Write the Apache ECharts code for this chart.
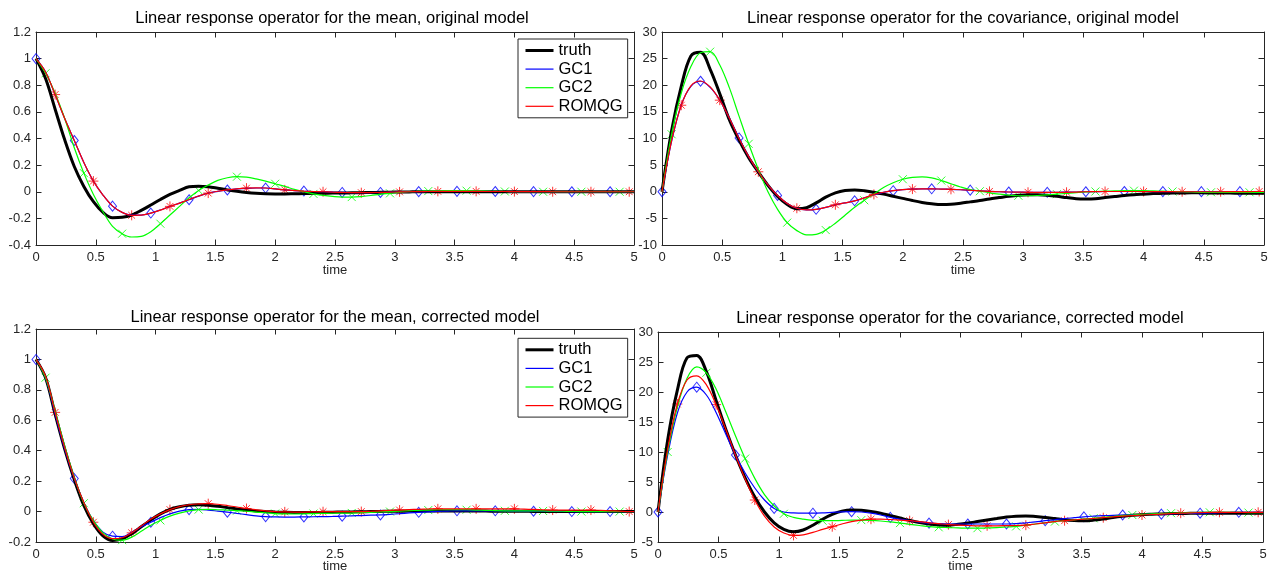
<!DOCTYPE html>
<html>
<head>
<meta charset="utf-8">
<script src="https://cdn.jsdelivr.net/npm/echarts@6/dist/echarts.min.js"></script>
<style>html,body{margin:0;padding:0;background:#fff}#c{width:1281px;height:576px}</style>
</head>
<body>
<div id="c"></div>
<script>
// time grid (shared by all series)
var t = [0,0.08,0.16,0.24,0.32,0.40,0.48,0.56,
0.64,0.72,0.80,0.88,0.96,1.04,1.12,1.20,
1.28,1.36,1.44,1.52,1.60,1.68,1.76,1.84,
1.92,2.00,2.08,2.16,2.24,2.32,2.40,2.48,
2.56,2.64,2.72,2.80,2.88,2.96,3.04,3.12,
3.20,3.28,3.36,3.44,3.52,3.60,3.68,3.76,
3.84,3.92,4.00,4.08,4.16,4.24,4.32,4.40,
4.48,4.56,4.64,4.72,4.80,4.88,4.96,5.00];

var seriesNames = ['truth','GC1','GC2','ROMQG'];
var xTicks = {min:0, max:5, interval:0.5};

// ---- mean, original model ----
var truthMO = [1.0,0.85,0.62,0.39,0.19,0.04,-0.075,-0.155,
-0.195,-0.192,-0.175,-0.14,-0.10,-0.058,-0.02,0.01,
0.038,0.042,0.037,0.026,0.014,0.003,-0.006,-0.012,
-0.015,-0.016,-0.016,-0.015,-0.014,-0.012,-0.011,-0.01,
-0.009,-0.008,-0.007,-0.006,-0.004,-0.003,-0.002,-0.001,
0,0,0,0,0,0,0,0,
0,0,0,0,0,0,0,0,
0,0,0,0,0,0,0,0];
var gc1MO = [1.0,0.9,0.73,0.55,0.385,0.22,0.08,-0.025,
-0.108,-0.155,-0.176,-0.175,-0.16,-0.137,-0.11,-0.085,
-0.06,-0.033,-0.01,0.003,0.013,0.021,0.026,0.028,
0.028,0.022,0.014,0.009,0.005,0.002,0.0,-0.003,
-0.005,-0.006,-0.006,-0.006,-0.005,-0.003,-0.001,0.0,
0.001,0.002,0.003,0.003,0.003,0.003,0.003,0.002,
0.002,0.002,0.001,0.001,0.001,0.001,0,0,
0,0,0,0,0,0,0,0];
var gc2MO = [1.0,0.89,0.74,0.55,0.33,0.14,-0.02,-0.15,
-0.26,-0.315,-0.34,-0.335,-0.30,-0.24,-0.175,-0.11,
-0.045,0.01,0.05,0.085,0.105,0.113,0.11,0.097,
0.08,0.06,0.04,0.018,0.0,-0.016,-0.027,-0.035,
-0.04,-0.04,-0.036,-0.028,-0.019,-0.012,-0.005,0.0,
0.003,0.005,0.007,0.008,0.008,0.008,0.007,0.005,
0.003,0.002,0.001,0,0,0,0,0,
0,0,0,0,0,0,0,0];
var romMO = [1.0,0.9,0.73,0.55,0.385,0.22,0.08,-0.025,
-0.108,-0.155,-0.177,-0.176,-0.161,-0.138,-0.11,-0.085,
-0.058,-0.032,-0.01,0.004,0.014,0.022,0.027,0.029,
0.028,0.022,0.014,0.009,0.005,0.002,0.0,-0.003,
-0.005,-0.006,-0.007,-0.006,-0.005,-0.003,-0.001,0.0,
0.001,0.002,0.003,0.003,0.003,0.003,0.003,0.002,
0.002,0.002,0.001,0.001,0.001,0.001,0,0,
0,0,0,0,0,0,0,0];

// ---- covariance, original model ----
var truthCO = [0,11.5,19.8,25.5,26.2,23.0,18.4,13.5,
9.7,6.4,3.7,1.2,-0.9,-2.4,-3.2,-3.0,
-2.1,-1.0,-0.2,0.25,0.35,0.2,-0.1,-0.45,
-0.85,-1.25,-1.65,-2.0,-2.25,-2.4,-2.35,-2.15,
-1.9,-1.65,-1.35,-1.1,-0.85,-0.65,-0.55,-0.55,
-0.65,-0.85,-1.1,-1.3,-1.35,-1.3,-1.1,-0.9,
-0.7,-0.55,-0.45,-0.35,-0.3,-0.25,-0.22,-0.2,
-0.2,-0.22,-0.24,-0.25,-0.27,-0.28,-0.3,-0.3];
var gc1CO = [0,9.5,16.3,19.8,20.75,19.6,17.2,13.8,
10.1,6.6,3.75,1.3,-0.7,-2.2,-3.1,-3.4,
-3.3,-2.95,-2.45,-2.1,-1.7,-1.15,-0.55,-0.12,
0.2,0.4,0.5,0.55,0.55,0.5,0.45,0.38,
0.3,0.18,0.08,0.0,-0.05,-0.08,-0.1,-0.1,
-0.1,-0.1,-0.08,-0.05,0.0,0.03,0.05,0.05,
0.05,0.05,0.05,0.04,0.03,0.02,0.02,0.02,
0.02,0.02,0.02,0.02,0.02,0.02,0.02,0.02];
var gc2CO = [0,10.8,18.5,23.5,26.1,26.3,23.8,19.5,
14.2,9.0,4.2,0.0,-3.3,-5.8,-7.3,-8.1,
-8.0,-7.2,-5.9,-4.4,-2.9,-1.6,-0.4,0.8,
1.7,2.35,2.7,2.8,2.6,2.1,1.5,0.9,
0.4,0.1,-0.2,-0.45,-0.65,-0.75,-0.75,-0.7,
-0.6,-0.45,-0.3,-0.15,-0.05,0.05,0.1,0.15,
0.2,0.2,0.2,0.15,0.1,0.05,0.0,-0.05,
-0.1,-0.1,-0.1,-0.1,-0.1,-0.1,-0.1,-0.1];
var romCO = [0,9.6,16.25,19.9,20.8,19.7,17.2,13.8,
10.0,6.6,3.75,1.3,-0.7,-2.2,-3.1,-3.4,
-3.3,-2.95,-2.45,-2.1,-1.7,-1.15,-0.5,-0.1,
0.2,0.4,0.5,0.55,0.55,0.5,0.45,0.38,
0.28,0.17,0.07,0.0,-0.05,-0.08,-0.1,-0.1,
-0.1,-0.1,-0.1,-0.06,0.0,0.03,0.05,0.05,
0.05,0.05,0.05,0.04,0.02,0.01,0.0,0.0,
0.0,0.0,0.0,0.02,0.03,0.04,0.05,0.05];

// ---- mean, corrected model ----
var truthMC = [1.0,0.88,0.64,0.41,0.21,0.04,-0.08,-0.16,
-0.19,-0.18,-0.145,-0.10,-0.055,-0.015,0.015,0.032,
0.042,0.045,0.042,0.035,0.026,0.017,0.01,0.004,
0.0,-0.003,-0.005,-0.006,-0.006,-0.006,-0.005,-0.004,
-0.003,-0.002,-0.001,0.0,0.001,0.002,0.002,0.003,
0.003,0.003,0.003,0.003,0.003,0.003,0.003,0.003,
0.002,0.002,0.002,0.002,0.001,0.001,0.001,0.001,
0.001,0,0,0,0,0,0,0];
var gc1MC = [1.0,0.88,0.64,0.41,0.217,0.06,-0.06,-0.135,
-0.162,-0.165,-0.138,-0.10,-0.07,-0.04,-0.015,0.003,
0.013,0.014,0.01,0.003,-0.004,-0.012,-0.02,-0.028,
-0.033,-0.035,-0.036,-0.036,-0.035,-0.034,-0.033,-0.032,
-0.03,-0.028,-0.026,-0.024,-0.022,-0.018,-0.014,-0.009,
-0.005,-0.002,0.001,0.003,0.005,0.005,0.005,0.005,
0.005,0.004,0.003,0.003,0.002,0.002,0.001,0.001,
0,0,0,0,0,0,0,0];
var gc2MC = [1.0,0.88,0.66,0.43,0.225,0.055,-0.06,-0.14,
-0.18,-0.188,-0.168,-0.13,-0.09,-0.058,-0.03,-0.01,
0.005,0.013,0.014,0.012,0.009,0.006,0.002,-0.003,
-0.009,-0.013,-0.015,-0.016,-0.015,-0.013,-0.012,-0.011,
-0.01,-0.009,-0.007,-0.005,-0.002,0.0,0.003,0.006,
0.008,0.01,0.012,0.013,0.013,0.012,0.01,0.008,
0.006,0.005,0.005,0.005,0.005,0.004,0.003,0.002,
0.001,0,0,0,0,0,0,0];
var romMC = [1.0,0.89,0.652,0.42,0.22,0.06,-0.07,-0.15,
-0.178,-0.172,-0.14,-0.095,-0.05,-0.015,0.013,0.033,
0.045,0.05,0.052,0.048,0.04,0.03,0.02,0.012,
0.005,0.0,-0.002,-0.003,-0.003,-0.002,-0.001,0.0,
0.0,0.0,0.0,0.002,0.005,0.008,0.01,0.013,
0.015,0.017,0.018,0.018,0.018,0.018,0.018,0.018,
0.018,0.018,0.018,0.016,0.014,0.012,0.01,0.01,
0.01,0.01,0.01,0.008,0.005,0.003,0.0,0.0];

// ---- covariance, corrected model ----
var truthCC = [0,12,20.3,25.7,26.1,23.4,18.6,13.8,
9.5,5.7,2.5,0.0,-1.8,-2.9,-3.3,-3.0,
-2.2,-1.2,-0.4,0.15,0.35,0.3,0.1,-0.2,
-0.6,-1.0,-1.4,-1.75,-2.0,-2.15,-2.2,-2.05,
-1.85,-1.6,-1.35,-1.1,-0.85,-0.7,-0.65,-0.75,
-0.9,-1.1,-1.3,-1.42,-1.45,-1.35,-1.15,-0.9,
-0.7,-0.55,-0.45,-0.38,-0.32,-0.27,-0.24,-0.22,
-0.2,-0.2,-0.2,-0.2,-0.2,-0.2,-0.2,-0.2];
var gc1CC = [0,9.5,16.5,20.0,20.8,19.5,16.6,13.0,
9.5,6.5,4.0,2.0,0.6,0.0,-0.15,-0.2,
-0.2,-0.15,-0.05,0.03,0.05,0.0,-0.2,-0.5,
-0.9,-1.2,-1.45,-1.7,-1.85,-1.95,-2.0,-2.0,
-2.0,-2.0,-2.0,-2.0,-2.0,-1.95,-1.8,-1.65,
-1.45,-1.3,-1.1,-0.95,-0.8,-0.7,-0.62,-0.55,
-0.5,-0.45,-0.42,-0.38,-0.35,-0.3,-0.27,-0.23,
-0.2,-0.15,-0.12,-0.08,-0.05,-0.05,-0.05,-0.05];
var gc2CC = [0,10,17.5,22.3,24.2,23.2,20.5,16.7,
12.7,8.9,5.6,2.9,1.0,-0.3,-0.9,-1.2,
-1.4,-1.45,-1.45,-1.4,-1.35,-1.35,-1.4,-1.5,
-1.65,-1.85,-2.05,-2.25,-2.45,-2.55,-2.6,-2.65,
-2.7,-2.7,-2.65,-2.6,-2.5,-2.4,-2.2,-2.0,
-1.8,-1.6,-1.45,-1.3,-1.15,-1.05,-0.9,-0.75,
-0.6,-0.5,-0.4,-0.3,-0.25,-0.2,-0.15,-0.1,
-0.07,-0.05,-0.05,-0.05,-0.07,-0.1,-0.1,-0.1];
var romCC = [0,10.5,18,22,22.7,21.2,17.9,13.8,
9.5,5.5,2.0,-0.7,-2.5,-3.5,-3.9,-3.8,
-3.4,-2.9,-2.45,-2.0,-1.6,-1.35,-1.2,-1.2,
-1.25,-1.35,-1.45,-1.6,-1.8,-1.95,-2.1,-2.2,
-2.25,-2.3,-2.3,-2.3,-2.28,-2.25,-2.2,-2.0,
-1.8,-1.6,-1.45,-1.3,-1.2,-1.05,-0.95,-0.8,
-0.7,-0.6,-0.5,-0.42,-0.34,-0.27,-0.2,-0.15,
-0.1,-0.07,-0.05,-0.05,-0.05,-0.05,-0.05,-0.05];

var titles = ['Linear response operator for the mean, original model',
'Linear response operator for the covariance, original model',
'Linear response operator for the mean, corrected model',
'Linear response operator for the covariance, corrected model'];
var yTicks = [{min:-0.4,max:1.2,interval:0.2},{min:-10,max:30,interval:5},
{min:-0.2,max:1.2,interval:0.2},{min:-5,max:30,interval:5}];
var panelData = [[truthMO,gc1MO,gc2MO,romMO],[truthCO,gc1CO,gc2CO,romCO],
[truthMC,gc1MC,gc2MC,romMC],[truthCC,gc1CC,gc2CC,romCC]];

// ---------- layout & styles ----------
var FONT = 'Liberation Sans, Arial, Helvetica, sans-serif';
var AX = '#262626';
var grids = [
 {left:36, top:32, width:598, height:213},
 {left:662, top:32, width:602, height:213},
 {left:36, top:329, width:598, height:213},
 {left:658, top:332, width:605, height:210}
];
var titlePos = [[332,18],[963,18],[335,317],[960,318.5]];
var nameGaps = [18.5,18.5,17.5,17.5];
var colors = ['#000000','#0000ff','#00ff00','#ff0000'];
var widths = [3,1.2,1.2,1.2];
var markerPhase = [null,0,1,2];
var markerSym = [null,'diamond','path://M0,0L10,10M10,0L0,10',
 'path://M5,0L5,10M0,5L10,5M1.6,1.6L8.4,8.4M8.4,1.6L1.6,8.4'];
var markerSize = [null,[8,10],8,10];

var xAxes=[], yAxes=[], series=[], graphics=[];
grids.forEach(function(g,gi){
  g.containLabel = false; g.outerBoundsMode = 'none';
  var tickStyle = {show:true, inside:true, length:5.5, lineStyle:{color:AX,width:1}};
  var lineStyle = {show:true, onZero:false, lineStyle:{color:AX,width:1}};
  xAxes.push({type:'value', gridIndex:gi, position:'bottom', min:xTicks.min, max:xTicks.max, interval:xTicks.interval,
    axisLine:lineStyle, axisTick:tickStyle, splitLine:{show:false},
    axisLabel:{color:AX, fontSize:13, fontFamily:FONT, margin:6},
    name:'time', nameLocation:'middle', nameGap:nameGaps[gi], nameMoveOverlap:false,
    nameTextStyle:{color:AX, fontSize:13, fontFamily:FONT}});
  xAxes.push({type:'value', gridIndex:gi, position:'top', min:xTicks.min, max:xTicks.max, interval:xTicks.interval,
    axisLine:lineStyle, axisTick:tickStyle, splitLine:{show:false}, axisLabel:{show:false}});
  var yt = yTicks[gi];
  yAxes.push({type:'value', gridIndex:gi, position:'left', min:yt.min, max:yt.max, interval:yt.interval,
    axisLine:lineStyle, axisTick:tickStyle, splitLine:{show:false},
    axisLabel:{color:AX, fontSize:13, fontFamily:FONT, margin:5}});
  yAxes.push({type:'value', gridIndex:gi, position:'right', min:yt.min, max:yt.max, interval:yt.interval,
    axisLine:lineStyle, axisTick:tickStyle, splitLine:{show:false}, axisLabel:{show:false}});
  var xi = gi*2, yi = gi*2;
  panelData[gi].forEach(function(arr,si){
    var pts = t.map(function(x,i){return [x, arr[i]];});
    series.push({type:'line', name:seriesNames[si], xAxisIndex:xi, yAxisIndex:yi,
      data:pts, symbol:'none', smooth:0.35, clip:true, silent:true,
      lineStyle:{color:colors[si], width:widths[si]}, itemStyle:{color:colors[si]},
      emphasis:{disabled:true}});
    if (markerPhase[si] !== null) {
      var mk = pts.filter(function(p,i){return i < t.length-1 && i%4 === markerPhase[si];});
      series.push({type:'scatter', name:seriesNames[si]+' markers', xAxisIndex:xi, yAxisIndex:yi,
        data:mk, symbol:markerSym[si], symbolSize:markerSize[si], silent:true, clip:true,
        itemStyle:{color:'rgba(0,0,0,0)', borderColor:colors[si], borderWidth:1},
        emphasis:{disabled:true}});
    }
  });
  graphics.push({type:'text', x:titlePos[gi][0], y:titlePos[gi][1],
    style:{text:titles[gi], fill:'#000', font:'16.5px '+FONT, align:'center', verticalAlign:'middle'}});
});

function makeLegend(top){
  var items = seriesNames.map(function(n,i){
    return {name:n, lineStyle:{width:widths[i], color:colors[i]}};
  });
  return {show:true, orient:'vertical', left:518, top:top, data:items,
    itemWidth:28, itemHeight:14, itemGap:1.6, selectedMode:false,
    itemStyle:{opacity:0},
    padding:[3,5,3,6], borderColor:AX, borderWidth:1, backgroundColor:'#fff',
    textStyle:{color:'#000', fontSize:16.5, fontFamily:FONT, lineHeight:17}};
}

var chart = echarts.init(document.getElementById('c'), null, {renderer:'canvas'});
chart.setOption({
  backgroundColor:'#fff', animation:false,
  grid:grids, xAxis:xAxes, yAxis:yAxes, series:series,
  legend:[makeLegend(39), makeLegend(338.3)],
  graphic:graphics
});
</script>
</body>
</html>
